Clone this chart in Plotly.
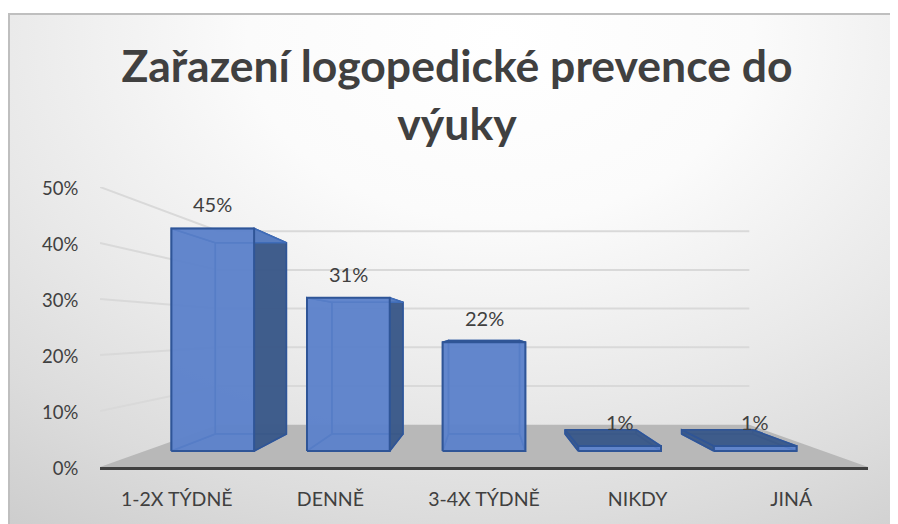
import base64
import plotly.graph_objects as go

# ---- data -------------------------------------------------------------
categories = ["1-2X TÝDNĚ", "DENNĚ", "3-4X TÝDNĚ", "NIKDY", "JINÁ"]
values = [45, 31, 22, 1, 1]
value_labels = ["45%", "31%", "22%", "1%", "1%"]
y_ticks = [0, 10, 20, 30, 40, 50]
y_tick_labels = ["0%", "10%", "20%", "30%", "40%", "50%"]
title_text = "Zařazení logopedické prevence do<br>výuky"

# ---- plot frame (page pixels; the page body adds an 8 px margin) ----------
W, H = 898, 524
PAGE = 8
FW, FH = W - PAGE, H - PAGE
L, R, B, T = 100, 868, 467, 187
PX_X = (R - L) / 5        # px per category on the front plane
PX_Y = (B - T) / 50       # px per percent on the front plane
VP_X, VP_Y = 484, 330     # vanishing point in pixels
S_BAR_FRONT, S_BAR_BACK, S_WALL = 0.883, 0.759, 0.691
BAR_HALF = 0.305
FONT = "Lato"
TEXT = "#404040"

def project(cat, val, s):
    """perspective projection of (category, value) at depth scale s, in data units"""
    px = L + (cat + 0.5) * PX_X
    py = B - val * PX_Y
    qx = VP_X + (px - VP_X) * s
    qy = VP_Y + (py - VP_Y) * s
    return (qx - L) / PX_X - 0.5, (B - qy) / PX_Y

def poly(points, fill, line, width=1.5):
    xs = [p[0] for p in points] + [points[0][0]]
    ys = [p[1] for p in points] + [points[0][1]]
    return go.Scatter(x=xs, y=ys, mode="lines", fill="toself" if fill else "none",
                      fillcolor=fill, line=dict(color=line, width=width),
                      hoverinfo="skip", showlegend=False)

fig = go.Figure()

# floor
fig.add_trace(poly([project(-0.5, 0, 1), project(-0.5, 0, S_WALL),
                    project(4.5, 0, S_WALL), project(4.5, 0, 1)],
                   "#b8b8b8", "rgba(0,0,0,0)", 0))
# gridlines: side wall + back wall
GRID = "#d9d9d9"
for v in y_ticks[1:]:
    a = project(-0.5, v, 1); b = project(-0.5, v, S_WALL); c = project(4.5, v, S_WALL)
    fig.add_trace(go.Scatter(x=[a[0], b[0], c[0]], y=[a[1], b[1], c[1]], mode="lines",
                             line=dict(color=GRID, width=2), hoverinfo="skip", showlegend=False))

# bars
BLUE = "rgba(92,130,202,0.78)"
BLUE_BACK = "rgba(92,130,202,0.82)"
DARK = "rgba(58,86,132,0.90)"
EDGE = "#2f5597"
INNER = "#3f6cb8"
for i, v in enumerate(values):
    x0, x1 = i - BAR_HALF, i + BAR_HALF
    fb0, fb1 = project(x0, 0, S_BAR_FRONT), project(x1, 0, S_BAR_FRONT)
    ft0, ft1 = project(x0, v, S_BAR_FRONT), project(x1, v, S_BAR_FRONT)
    bb0, bb1 = project(x0, 0, S_BAR_BACK), project(x1, 0, S_BAR_BACK)
    bt0, bt1 = project(x0, v, S_BAR_BACK), project(x1, v, S_BAR_BACK)
    front_top_px = B - v * PX_Y
    left_outer = L + (x0 + 0.5) * PX_X > VP_X
    right_outer = L + (x1 + 0.5) * PX_X < VP_X
    top_outer = front_top_px > VP_Y
    # side faces that lie behind the front are filled like the back, others dark
    fig.add_trace(poly([bb0, bb1, bt1, bt0], BLUE_BACK, INNER))
    fig.add_trace(poly([fb0, fb1, bb1, bb0], BLUE_BACK, INNER))
    fig.add_trace(poly([fb0, ft0, bt0, bb0], DARK if left_outer else BLUE_BACK, EDGE if left_outer else INNER))
    fig.add_trace(poly([fb1, ft1, bt1, bb1], DARK if right_outer else BLUE_BACK, EDGE if right_outer else INNER))
    fig.add_trace(poly([ft0, ft1, bt1, bt0], DARK if top_outer else BLUE_BACK, EDGE if top_outer else INNER))
    fig.add_trace(poly([fb0, fb1, ft1, ft0], BLUE, EDGE, 2))

# value labels
for i, (v, t) in enumerate(zip(values, value_labels)):
    px, py = project(i, v, S_BAR_FRONT)
    fig.add_annotation(x=px, y=py, text=t, showarrow=False, yshift=24, yanchor="middle",
                       font=dict(family=FONT, size=20, color=TEXT))

# gradient background + frame
svg = f'''<svg xmlns="http://www.w3.org/2000/svg" width="{FW}" height="{FH}">
<defs><radialGradient id="g" gradientUnits="userSpaceOnUse" cx="0" cy="0" r="600"
 gradientTransform="translate({500 - PAGE},{40 - PAGE}) scale(1.4,1)">
<stop offset="0" stop-color="#ffffff"/><stop offset="0.3" stop-color="#fbfbfb"/>
<stop offset="0.6" stop-color="#e9e9e9"/><stop offset="0.8" stop-color="#dcdcdc"/>
<stop offset="1" stop-color="#cdcdcd"/></radialGradient></defs>
<rect width="{FW}" height="{FH}" fill="#ffffff"/>
<rect x="{9 - PAGE}" y="{14 - PAGE}" width="{FW + 10}" height="{FH + 10}" fill="url(#g)" stroke="#bfbfbf" stroke-width="2"/>
</svg>'''
bg = "data:image/svg+xml;base64," + base64.b64encode(svg.encode()).decode()

fig.update_layout(
    width=FW, height=FH, autosize=False,
    margin=dict(l=L - PAGE, r=W - R, t=T - PAGE, b=H - B),
    paper_bgcolor="#ffffff", plot_bgcolor="rgba(0,0,0,0)",
    showlegend=False,
    font=dict(family=FONT, color=TEXT),
    title=dict(text=title_text, x=(457 - PAGE) / FW, xanchor="center", y=1 - (82 - PAGE) / FH, yanchor="middle",
               font=dict(family=FONT, size=44.5, color=TEXT, weight="bold")),
    images=[dict(source=bg, xref="paper", yref="paper", x=-(L - PAGE) / (R - L), y=1 + (T - PAGE) / (B - T),
                 sizex=FW / (R - L), sizey=FH / (B - T), xanchor="left", yanchor="top",
                 sizing="stretch", layer="below")],
)
fig.update_xaxes(range=[-0.5, 4.5], tickmode="array", tickvals=list(range(5)), ticktext=categories,
                 showgrid=False, zeroline=False, showline=True, linecolor=TEXT, linewidth=3,
                 ticks="outside", ticklen=13, tickcolor="rgba(0,0,0,0)", automargin=False,
                 tickfont=dict(family=FONT, size=19.5, color=TEXT), fixedrange=True)
fig.update_yaxes(range=[0, 50], tickmode="array", tickvals=y_ticks, ticktext=y_tick_labels,
                 showgrid=False, zeroline=False, showline=False, ticklabelshift=2,
                 ticks="outside", ticklen=17, tickcolor="rgba(0,0,0,0)", automargin=False,
                 tickfont=dict(family=FONT, size=18.5, color=TEXT), fixedrange=True)

fig.write_html("out.html", config=dict(displayModeBar=False))
